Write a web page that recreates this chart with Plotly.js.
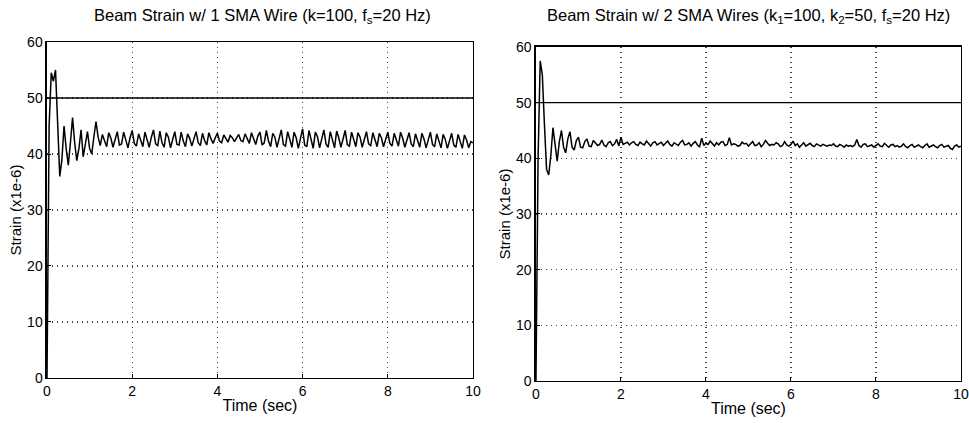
<!DOCTYPE html>
<html>
<head>
<meta charset="utf-8">
<script src="https://cdn.plot.ly/plotly-3.0.1.min.js"></script>
<style>html,body{margin:0;padding:0;background:#fff;}#chart{width:969px;height:423px;}</style>
</head>
<body>
<div id="chart"></div>
<script>
// Sampling: 20 Hz, t starts at 0 s
const sampleStart = 0;
const sampleStep = 0.05;

// Beam strain, 1 SMA wire (x1e-6)
const strainOneWire = [
  0, 45, 54.5, 53, 55, 46, 36, 39, 45, 41, 38, 42, 46.5, 42, 38.8, 41, 44.3, 39.5, 41.5, 44,
  41, 40, 43, 45.8, 43, 41.5, 43.5, 42.5, 41.3, 43.8, 42.8, 41.2, 42.4, 44.0, 41.6, 41.8, 43.9, 42.6, 41.1, 42.9,
  44.2, 41.9, 41.4, 43.6, 42.2, 41.3, 43.9, 42.5, 41.2, 43.0, 44.3, 41.8, 41.5, 44.1, 42.0, 41.2, 43.8, 43.0, 41.1, 42.6,
  44.0, 41.7, 41.6, 43.9, 42.3, 41.3, 43.6, 42.8, 41.4, 42.7, 44.0, 42.0, 41.5, 43.7, 42.4, 41.6, 43.8, 42.7, 41.9, 42.9,
  43.7, 42.3, 42.0, 43.4, 42.6, 42.1, 43.3, 42.9, 42.2, 43.0, 43.5, 42.4, 42.2, 43.6, 42.7, 41.9, 43.8, 42.8, 41.7, 43.2,
  43.9, 41.6, 42.0, 44.2, 42.3, 41.3, 43.7, 43.0, 41.2, 42.8, 44.3, 41.7, 41.4, 44.0, 42.5, 41.2, 43.9, 42.9, 41.0, 42.7,
  44.5, 41.6, 41.3, 44.2, 42.3, 41.0, 43.9, 43.1, 41.1, 42.6, 44.3, 41.8, 41.2, 44.0, 42.4, 41.1, 44.1, 42.9, 41.2, 42.8,
  44.2, 41.7, 41.4, 43.9, 42.6, 41.3, 43.8, 43.0, 41.2, 42.7, 44.0, 41.8, 41.5, 43.8, 42.4, 41.3, 43.7, 42.9, 41.3, 42.6,
  43.9, 41.9, 41.4, 43.7, 42.5, 41.4, 43.9, 42.8, 41.2, 42.5, 43.8, 41.8, 41.3, 43.6, 42.3, 41.2, 43.7, 42.7, 41.1, 42.5,
  43.9, 41.7, 41.3, 43.6, 42.2, 41.1, 43.5, 42.6, 41.0, 42.4, 43.7, 41.6, 41.2, 43.5, 42.1, 41.0, 43.4, 42.5, 41.1, 42.2,
  42.0
];

// Beam strain, 2 SMA wires (x1e-6)
const strainTwoWires = [
  0, 40, 57.5, 55, 46, 38, 37, 40.5, 45.5, 42, 39.5, 43, 45, 42, 41, 43.5, 44.8, 42, 41.5, 43.2,
  43.8, 42.0, 41.9, 43.0, 43.5, 42.2, 42.1, 43.2, 42.8, 42.3, 42.5, 43.3, 42.4, 42.1, 42.8, 43.0, 42.3, 42.6, 43.4, 42.2,
  43.8, 42.5, 42.7, 42.9, 42.4, 42.8, 43.0, 42.5, 42.3, 42.9, 42.6, 42.4, 43.1, 42.7, 42.2, 42.8, 43.0, 42.4, 42.6, 42.9,
  42.3, 42.7, 43.1, 42.5, 42.2, 42.8, 42.6, 42.3, 42.9, 43.2, 42.4, 42.5, 42.8, 42.2, 42.7, 43.0, 42.4, 42.1, 43.6, 42.3,
  42.7, 42.5, 43.1, 42.6, 42.2, 42.8, 42.4, 42.9, 43.0, 42.3, 42.5, 43.7, 42.4, 42.6, 42.5, 42.2, 42.3, 42.9, 42.6, 42.7,
  42.2, 42.6, 43.0, 42.3, 42.4, 42.8, 42.1, 42.5, 43.2, 42.7, 42.3, 42.5, 42.4, 42.8, 42.6, 42.1, 42.3, 43.0, 42.4, 42.2,
  42.5, 43.1, 42.3, 42.6, 42.0, 42.4, 42.8, 42.2, 42.5, 42.7, 42.3, 42.1, 42.6, 42.4, 42.2, 42.5, 42.3, 42.2, 42.4, 42.3,
  42.6, 42.2, 42.1, 42.5, 42.3, 42.0, 42.4, 42.2, 42.3, 42.1, 42.4, 43.4, 42.3, 42.0, 42.5, 42.6, 42.1, 42.2, 42.4, 42.0,
  42.3, 42.6, 42.2, 42.1, 42.7, 42.3, 42.0, 42.4, 42.5, 42.1, 42.3, 42.0, 42.2, 42.6, 42.1, 41.9, 42.3, 42.5, 42.0, 42.2,
  42.4, 42.1, 41.9, 42.3, 42.6, 42.0, 42.2, 42.4, 42.1, 41.9, 42.3, 42.5, 42.0, 42.2, 42.3, 41.8, 41.6, 42.2, 42.4, 42.0,
  42.2
];

// Reference (desired) strain level
const refTime = [0, 10];
const refStrain = [50, 50];

const xTicks = [0, 2, 4, 6, 8, 10];
const yTicks = [0, 10, 20, 30, 40, 50, 60];

const FONT = 'Liberation Sans, Arial, Helvetica, sans-serif';
const lineStyle = {color: '#000', width: 1.5};

const traces = [
  {x0: sampleStart, dx: sampleStep, y: strainOneWire, type: 'scatter', mode: 'lines', line: lineStyle, xaxis: 'x', yaxis: 'y', hoverinfo: 'skip'},
  {x: refTime, y: refStrain, type: 'scatter', mode: 'lines', line: {color: '#000', width: 1.4}, xaxis: 'x', yaxis: 'y', hoverinfo: 'skip'},
  {x0: sampleStart, dx: sampleStep, y: strainTwoWires, type: 'scatter', mode: 'lines', line: lineStyle, xaxis: 'x2', yaxis: 'y2', hoverinfo: 'skip'},
  {x: refTime, y: refStrain, type: 'scatter', mode: 'lines', line: {color: '#000', width: 1.4}, xaxis: 'x2', yaxis: 'y2', hoverinfo: 'skip'}
];

function xAxis(domain, anchor) {
  return {
    domain: domain, anchor: anchor, range: [0, 10], tickvals: xTicks, ticktext: xTicks.map(String),
    showline: true, mirror: true, linecolor: '#000', linewidth: 1.5,
    ticks: 'inside', ticklen: 4, tickcolor: '#000',
    showgrid: true, gridcolor: '#444', griddash: '1px,4px', gridwidth: 1.2,
    zeroline: false, automargin: false,
    tickfont: {family: FONT, size: 14, color: '#000'},
    title: {text: 'Time (sec)', font: {family: FONT, size: 16, color: '#000'}, standoff: 1}
  };
}
function yAxis(domain, anchor) {
  return {
    domain: domain, anchor: anchor, range: [0, 60], tickvals: yTicks, ticktext: yTicks.map(String),
    showline: true, mirror: true, linecolor: '#000', linewidth: 1.5,
    ticks: 'inside', ticklen: 4, tickcolor: '#000',
    showgrid: true, gridcolor: '#444', griddash: '1px,4px', gridwidth: 1.2,
    zeroline: false, automargin: false,
    tickfont: {family: FONT, size: 14, color: '#000'},
    title: {text: 'Strain (x1e-6)', font: {family: FONT, size: 15, color: '#000'}, standoff: 2}
  };
}

const layout = {
  width: 969, height: 423,
  margin: {l: 0, r: 0, t: 0, b: 0},
  paper_bgcolor: '#fff', plot_bgcolor: '#fff',
  showlegend: false,
  xaxis: xAxis([0.0485, 0.4881], 'y'),
  yaxis: yAxis([0.1064, 0.9007], 'x'),
  xaxis2: xAxis([0.5531, 0.9917], 'y2'),
  yaxis2: yAxis([0.0993, 0.8889], 'x2'),
  annotations: [
    {text: 'Beam Strain w/ 1 SMA Wire (k=100, f<sub>s</sub>=20 Hz)', xref: 'paper', yref: 'paper',
     x: 262 / 969, y: 0.962, xanchor: 'center', yanchor: 'middle', showarrow: false,
     font: {family: FONT, size: 16.5, color: '#000'}},
    {text: 'Beam Strain w/ 2 SMA Wires (k<sub>1</sub>=100, k<sub>2</sub>=50, f<sub>s</sub>=20 Hz)', xref: 'paper', yref: 'paper',
     x: 748 / 969, y: 0.962, xanchor: 'center', yanchor: 'middle', showarrow: false,
     font: {family: FONT, size: 16.5, color: '#000'}}
  ]
};

Plotly.newPlot('chart', traces, layout, {staticPlot: true, displayModeBar: false});
</script>
</body>
</html>
